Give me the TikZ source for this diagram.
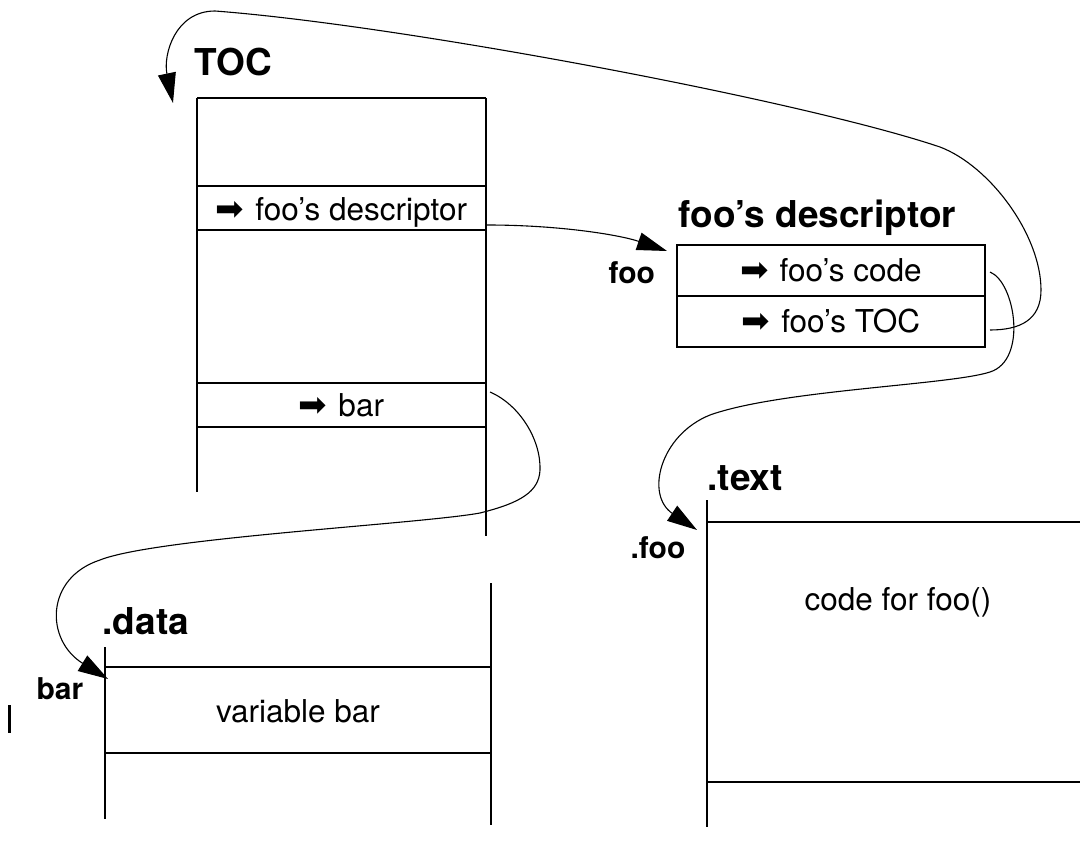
\documentclass[tikz,border=0pt]{standalone}
\usepackage{fontspec}
\setmainfont{TeX Gyre Heros}
\newfontfamily\symfont{DejaVu Sans}
\usetikzlibrary{arrows.meta}
% pointer glyph in front of a cell entry
\newcommand{\ptr}{{\symfont\fontsize{34}{34}\selectfont ➡}\hspace{11pt}}

\begin{document}
\begin{tikzpicture}[x=1pt,y=-1pt,line width=1.3pt,
  head/.style={font=\fontsize{37}{40}\selectfont\bfseries,anchor=base west,inner sep=0pt},
  tag/.style={font=\fontsize{30}{33}\selectfont\bfseries,anchor=base west,inner sep=0pt},
  cell/.style={font=\fontsize{31.5}{34}\selectfont,anchor=base,inner sep=0pt},
  link/.style={line width=1.1pt,-{Triangle[length=30pt,width=18pt]}}]
\useasboundingbox (0,0) rectangle (1080,843);

% ---- TOC column ----
\draw (197,98) -- (486,98);
\draw (197,98) -- (197,492);
\draw (486,98) -- (486,536);
\draw (197,186) -- (486,186) (197,230) -- (486,230);
\draw (197,383) -- (486,383) (197,427) -- (486,427);
\node[head] (toclbl) at (194,76) {TOC};
\node[cell] (tocdesc) at (341.5,220) {\ptr foo’s descriptor};
\node[cell] (tocbar) at (341.5,416) {\ptr bar};

% ---- function descriptor ----
\draw (677,245) rectangle (985,347);
\draw (677,296) -- (985,296);
\node[head] (desclbl) at (678,227) {foo’s descriptor};
\node[tag] (foolbl) at (608,283) {foo};
\node[cell] (desccode) at (831,281) {\ptr foo’s code};
\node[cell] (desctoc) at (831,332) {\ptr foo’s TOC};

% ---- .data section ----
\draw (105,647) -- (105,819);
\draw (491,583) -- (491,825);
\draw (105,667) -- (491,667) (105,753) -- (491,753);
\node[head] (datalbl) at (102,634) {.data};
\node[tag] (barlbl) at (36,699) {bar};
\node[cell] (varbar) at (298,722) {variable bar};
\draw[line width=3pt] (9.5,705) -- (9.5,733);

% ---- .text section ----
\draw (707,500) -- (707,827);
\draw (707,522) -- (1090,522) (707,782) -- (1090,782);
\node[head] (textlbl) at (707,490) {.text};
\node[tag] (dotfoo) at (630,558) {.foo};
\node[cell] (code) at (898,610) {code for foo()};

% ---- pointers ----
\coordinate (s1) at (487,225);
\coordinate (t1) at (667,251);
\draw[link] (s1) .. controls (560,225) and (620,235) .. (t1);

\coordinate (s2) at (990,330);
\coordinate (t2) at (173,103);
\draw[link] (s2) .. controls (1020,330) and (1041,320) .. (1041,290)
  .. controls (1041,235) and (990,166) .. (940,147)
  .. controls (800,100) and (400,25) .. (215,11)
  .. controls (175,11) and (163,55) .. (t2);

\coordinate (s3) at (990,272);
\coordinate (t3) at (697,530);
\draw[link] (s3) .. controls (1015,282) and (1028,360) .. (990,372)
  .. controls (950,385) and (780,390) .. (710,415)
  .. controls (660,435) and (645,495) .. (t3);

\coordinate (s4) at (490,392);
\coordinate (t4) at (108,679);
\draw[link] (s4) .. controls (520,405) and (541,440) .. (540,470)
  .. controls (539,492) and (520,503) .. (480,513)
  .. controls (420,524) and (155,538) .. (100,560)
  .. controls (45,578) and (45,640) .. (t4);
\end{tikzpicture}
\end{document}
